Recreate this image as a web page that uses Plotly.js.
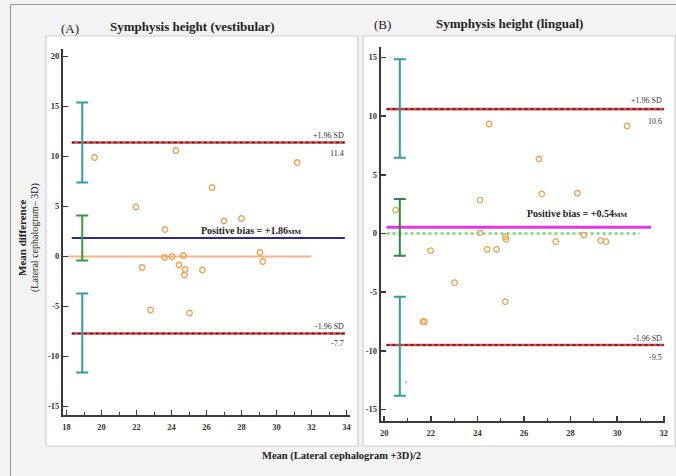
<!DOCTYPE html>
<html><head><meta charset="utf-8">
<script src="https://cdn.plot.ly/plotly-3.0.1.min.js"></script>
<style>html,body{margin:0;padding:0;background:#f3f3f3;}#plot{width:676px;height:476px;}</style>
</head><body><div id="plot"></div>
<script>
// ---- Panel A: Symphysis height (vestibular)
const meanA = [19.6, 24.25, 31.18, 21.96, 26.32, 27.0, 28.0, 23.63, 23.6, 24.03, 24.68, 24.43, 24.78, 24.74, 22.32, 25.77, 29.05, 29.22, 22.8, 25.03];
const diffA = [9.9, 10.6, 9.4, 4.95, 6.9, 3.55, 3.8, 2.7, -0.1, 0.0, 0.1, -0.85, -1.3, -1.85, -1.1, -1.35, 0.4, -0.5, -5.35, -5.65];
const biasA = 1.86, upperA = 11.4, lowerA = -7.7;
const ciUpperA = [7.4, 15.4], ciBiasA = [-0.4, 4.1], ciLowerA = [-11.6, -3.7];
const ciXA = 18.9;
const limitSpanA = [18.3, 33.9], zeroSpanA = [18.0, 32.0];

// ---- Panel B: Symphysis height (lingual)
const meanB = [20.49, 24.5, 30.42, 26.64, 24.11, 26.76, 28.29, 24.11, 25.2, 25.23, 28.57, 27.36, 29.29, 29.52, 21.99, 24.42, 24.82, 23.02, 25.2, 21.66, 21.73];
const diffB = [2.0, 9.33, 9.16, 6.35, 2.85, 3.37, 3.43, 0.05, -0.27, -0.5, -0.13, -0.7, -0.61, -0.7, -1.46, -1.35, -1.35, -4.19, -5.81, -7.52, -7.52];
const biasB = 0.54, upperB = 10.6, lowerB = -9.5;
const ciUpperB = [6.46, 14.85], ciBiasB = [-1.89, 2.94], ciLowerB = [-13.83, -5.39];
const ciXB = 20.67;
const limitSpanB = [20.1, 32.0], biasSpanB = [20.1, 31.45], zeroSpanB = [20.1, 30.96];
const strayB = {x: [20.93], y: [-12.7]};

// ---- tick labels
const xTicksA = [18, 20, 22, 24, 26, 28, 30, 32, 34];
const yTicksA = [20, 15, 10, 5, 0, -5, -10, -15];
const yTextA = ['20', '15', '10', '5', '0', '-5', '-10', '-15'];
const xTicksB = [20, 22, 24, 26, 28, 30, 32];
const yTicksB = [15, 10, 5, 0, -5, -10, -15];
const yTextB = ['15', '10', '5', '0', '-5', '-10', '-15'];

const W = 676, H = 476;
const px = v => v / W, py = v => 1 - v / H;
const SERIF = 'Liberation Serif, Times New Roman, serif';

function hline(xs, y, ax, color, width, dash) {
  return {x: xs, y: [y, y], xaxis: ax[0], yaxis: ax[1], mode: 'lines', hoverinfo: 'skip',
    line: {color: color, width: width, dash: dash || 'solid'}, showlegend: false};
}
function ciBar(x, lohi, ax, color) {
  const mid = (lohi[0] + lohi[1]) / 2;
  return {x: [x], y: [mid], xaxis: ax[0], yaxis: ax[1], mode: 'markers', showlegend: false,
    marker: {size: 1, color: 'rgba(0,0,0,0)'}, hoverinfo: 'skip',
    error_y: {type: 'data', symmetric: false, array: [lohi[1] - mid], arrayminus: [mid - lohi[0]],
      color: color, thickness: 2, width: 6}};
}
function pts(xs, ys, ax) {
  return {x: xs, y: ys, xaxis: ax[0], yaxis: ax[1], mode: 'markers', showlegend: false,
    marker: {symbol: 'circle-open', size: 5.5, color: '#f0a050', line: {width: 1.3, color: '#f0a050'}}};
}
const A = ['x', 'y'], B = ['x2', 'y2'];
const RED = '#d84a4a', DARK = '#5a1414';

const traces = [
  // A
  hline(zeroSpanA, 0, A, '#f6b583', 2),
  hline(limitSpanA, biasA, A, '#2b2b8f', 2),
  hline(limitSpanA, upperA, A, RED, 2.6),
  hline(limitSpanA, upperA, A, DARK, 1.5, 'dot'),
  hline(limitSpanA, lowerA, A, RED, 2.6),
  hline(limitSpanA, lowerA, A, DARK, 1.5, 'dot'),
  ciBar(ciXA, ciUpperA, A, '#2e9e9e'),
  ciBar(ciXA, ciLowerA, A, '#2e9e9e'),
  ciBar(ciXA, ciBiasA, A, '#3a9a3a'),
  pts(meanA, diffA, A),
  // B
  hline(zeroSpanB, 0, B, '#6fdc6f', 2.5, 'dot'),
  hline(biasSpanB, biasB, B, '#e635e6', 3),
  hline(limitSpanB, upperB, B, RED, 2.6),
  hline(limitSpanB, upperB, B, DARK, 1.5, 'dot'),
  hline(limitSpanB, lowerB, B, RED, 2.6),
  hline(limitSpanB, lowerB, B, DARK, 1.5, 'dot'),
  ciBar(ciXB, ciUpperB, B, '#2e9e9e'),
  ciBar(ciXB, ciLowerB, B, '#2e9e9e'),
  ciBar(ciXB, ciBiasB, B, '#2b8a3b'),
  pts(meanB, diffB, B),
  {x: strayB.x, y: strayB.y, xaxis: 'x2', yaxis: 'y2', mode: 'markers', showlegend: false,
    marker: {size: 2, color: '#e89090'}}
];

const tickFont = {family: SERIF, size: 8.5, color: '#333', weight: 'bold'};
const axBase = {showline: true, linecolor: '#3a3a3a', linewidth: 2, ticks: 'inside', ticklen: 5,
  tickwidth: 1.5, tickcolor: '#3a3a3a', showgrid: false, zeroline: false, tickfont: tickFont, fixedrange: true};

const layout = {
  width: W, height: H, margin: {l: 0, r: 0, t: 0, b: 0},
  paper_bgcolor: '#f3f3f3', plot_bgcolor: 'rgba(0,0,0,0)', showlegend: false,
  xaxis: Object.assign({}, axBase, {domain: [px(63), px(350)], range: [17.8, 34.2], anchor: 'y',
    tickvals: xTicksA, ticktext: xTicksA.map(String), ticklabelstandoff: 3,
    minor: {ticks: 'inside', dtick: 1, tick0: 18, ticklen: 3, tickcolor: '#3a3a3a', tickwidth: 1}}),
  yaxis: Object.assign({}, axBase, {domain: [py(415), py(49)], range: [-15.85, 20.75], anchor: 'x',
    tickvals: yTicksA, ticktext: yTextA}),
  xaxis2: Object.assign({}, axBase, {domain: [px(380.7), px(665)], range: [19.85, 32.05], anchor: 'y2',
    tickvals: xTicksB, ticktext: xTicksB.map(String), ticklabelstandoff: 3,
    minor: {ticks: 'inside', dtick: 1, tick0: 20, ticklen: 3, tickcolor: '#3a3a3a', tickwidth: 1}}),
  yaxis2: Object.assign({}, axBase, {domain: [py(421), py(46.7)], range: [-15.98, 15.92], anchor: 'x2',
    tickvals: yTicksB, ticktext: yTextB}),
  shapes: [
    {type: 'rect', xref: 'paper', yref: 'paper', x0: px(10.5), x1: px(700), y0: py(500), y1: py(4.5),
      line: {color: '#9a9a9a', width: 1}, fillcolor: 'rgba(0,0,0,0)', layer: 'below'},
    {type: 'rect', xref: 'paper', yref: 'paper', x0: px(46), x1: px(358), y0: py(446), y1: py(36),
      line: {color: '#cfcfcf', width: 1.2}, fillcolor: '#ffffff', layer: 'below'},
    {type: 'rect', xref: 'paper', yref: 'paper', x0: px(363), x1: px(675), y0: py(446), y1: py(36),
      line: {color: '#cfcfcf', width: 1.2}, fillcolor: '#ffffff', layer: 'below'}
  ],
  annotations: []
};

function ann(text, x, y, opts) {
  layout.annotations.push(Object.assign({text: text, xref: 'paper', yref: 'paper', x: px(x), y: py(y),
    showarrow: false, xanchor: 'center', yanchor: 'middle',
    font: {family: SERIF, size: 8, color: '#333'}}, opts || {}));
}
const small = (t) => "<span style='font-size:7px'>" + t + "</span>";
ann('(A)', 70, 28, {font: {family: SERIF, size: 13, color: '#222'}});
ann('Symphysis height (vestibular)', 192, 26, {font: {family: SERIF, size: 13, color: '#222', weight: 'bold'}});
ann('(B)', 383, 24.5, {font: {family: SERIF, size: 13, color: '#222'}});
ann('Symphysis height (lingual)', 509, 23.5, {font: {family: SERIF, size: 13, color: '#222', weight: 'bold'}});

ann('+1.96 SD', 346, 135, {xanchor: 'right'});
ann('11.4', 346, 154, {xanchor: 'right'});
ann('-1.96 SD', 346, 326, {xanchor: 'right'});
ann('-7.7', 346, 343, {xanchor: 'right'});
ann('Positive bias = +1.86' + small('MM'), 251, 230, {font: {family: SERIF, size: 10, color: '#222', weight: 'bold'}});

ann('+1.96 SD', 664, 100, {xanchor: 'right'});
ann('10.6', 664, 122, {xanchor: 'right'});
ann('-1.96 SD', 664, 338, {xanchor: 'right'});
ann('-9.5', 664, 357, {xanchor: 'right'});
ann('Positive bias = +0.54' + small('MM'), 577, 214, {font: {family: SERIF, size: 10, color: '#222', weight: 'bold'}});

ann('Mean difference', 22, 238, {textangle: -90, font: {family: SERIF, size: 11, color: '#222', weight: 'bold'}});
ann('(Lateral cephalogram\u2013 3D)', 35, 238, {textangle: -90, font: {family: SERIF, size: 10, color: '#222'}});
ann('Mean (Lateral cephalogram +3D)/2', 341, 456, {font: {family: SERIF, size: 10.5, color: '#222', weight: 'bold'}});

Plotly.newPlot('plot', traces, layout, {staticPlot: true, displayModeBar: false});
</script></body></html>
